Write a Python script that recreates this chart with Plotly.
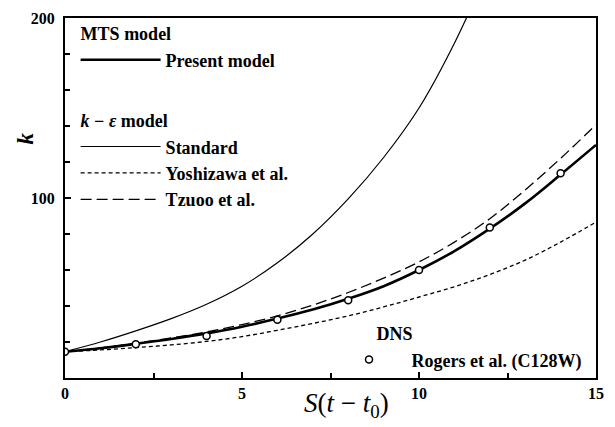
import plotly.graph_objects as go

# ---- data ----
x_curve = [0, 1, 2, 3, 4, 5, 6, 7, 8, 9, 10, 11, 12, 13, 14, 15]
present = [14.6, 16.5, 19.0, 21.7, 24.8, 28.5, 33.0, 38.0, 44.0, 51.0, 60.0, 70.5, 83.0, 97.0, 113.0, 129.5]
tzuoo = [14.6, 16.7, 19.3, 22.3, 25.6, 29.7, 34.5, 40.5, 47.5, 55.5, 64.5, 75.5, 88.5, 104.5, 122.0, 140.7]
yoshizawa = [14.6, 15.6, 16.9, 18.4, 20.3, 23.0, 26.5, 30.3, 34.5, 39.5, 45.0, 50.7, 57.5, 65.5, 75.5, 86.6]
x_std = [0, 1, 2, 3, 4, 5, 6, 7, 8, 9, 10, 11, 12]
standard = [14.6, 20.0, 26.2, 33.0, 41.0, 51.0, 64.0, 80.0, 99.5, 122.5, 150.0, 186.0, 229.0]
x_dns = [0, 2, 4, 6, 8, 10, 12, 14]
k_dns = [14.6, 18.8, 23.3, 32.4, 43.2, 60.0, 83.6, 113.7]

x_ticks = [0, 5, 10, 15]
y_ticks = [100, 200]

SERIF = "Liberation Serif"
FONT = dict(family=SERIF, size=18, color="black")

fig = go.Figure()
fig.add_trace(go.Scatter(x=x_curve, y=present, mode="lines", name="<b>Present model</b>",
                         line=dict(color="black", width=2.6, shape="spline"),
                         legendgroup="mts", legendgrouptitle=dict(text="<b>MTS model</b>", font=FONT)))
fig.add_trace(go.Scatter(x=x_std, y=standard, mode="lines", name="<b>Standard</b>",
                         line=dict(color="black", width=1.2, shape="spline"),
                         legendgroup="ke", legendgrouptitle=dict(text="<b><i>k</i> − <i>ε</i> model</b>", font=FONT)))
fig.add_trace(go.Scatter(x=x_curve, y=yoshizawa, mode="lines", name="<b>Yoshizawa et al.</b>",
                         line=dict(color="black", width=1.3, dash="4px,3px", shape="spline"),
                         legendgroup="ke"))
fig.add_trace(go.Scatter(x=x_curve, y=tzuoo, mode="lines", name="<b>Tzuoo et al.</b>",
                         line=dict(color="black", width=1.3, dash="11px,5px", shape="spline"),
                         legendgroup="ke"))
fig.add_trace(go.Scatter(x=x_dns, y=k_dns, mode="markers", name="<b>Rogers et al. (C128W)</b>",
                         marker=dict(symbol="circle", size=7, color="white",
                                     line=dict(color="black", width=1.5)),
                         legend="legend2", legendgroup="dns",
                         legendgrouptitle=dict(text="&nbsp;&nbsp;&nbsp;&nbsp;&nbsp;&nbsp;&nbsp;&nbsp;&nbsp;&nbsp;<b>DNS</b>", font=FONT)))

axis_common = dict(showline=True, linecolor="black", linewidth=2, mirror=True,
                   showgrid=False, zeroline=False, ticks="inside", tickcolor="black",
                   tickwidth=1.5, tickfont=dict(family=SERIF, size=16, color="black"))

fig.update_xaxes(range=[0, 15], tickvals=x_ticks, ticktext=[f"<b>{v}</b>" for v in x_ticks],
                 ticklen=6, minor=dict(dtick=2.5, ticks="inside", ticklen=5, tickcolor="black", tickwidth=1.5),
                 **axis_common)
fig.update_yaxes(range=[0, 200], tickvals=y_ticks, ticktext=[f"<b>{v}</b>" for v in y_ticks],
                 ticklen=6, ticklabelstandoff=5,
                 minor=dict(dtick=20, ticks="inside", ticklen=5, tickcolor="black", tickwidth=1.5),
                 **axis_common)

fig.add_annotation(text="<i>S</i>(<i>t</i> − <i>t</i><sub>0</sub>)", xref="paper", yref="paper",
                   x=0.531, y=-0.076, showarrow=False, font=dict(family=SERIF, size=27, color="black"),
                   xanchor="center", yanchor="middle")
fig.add_annotation(text="<b><i>k</i></b>", xref="paper", yref="paper", x=-0.075, y=0.666,
                   showarrow=False, textangle=-90, font=dict(family=SERIF, size=23, color="black"),
                   xanchor="center", yanchor="middle")

fig.update_layout(
    width=615, height=427,
    margin=dict(l=65, r=19, t=10, b=49),
    paper_bgcolor="white", plot_bgcolor="white",
    font=FONT,
    legend=dict(x=0.02, y=1.008, xanchor="left", yanchor="top", bgcolor="rgba(0,0,0,0)",
                traceorder="grouped", tracegroupgap=34, itemwidth=80, font=FONT),
    legend2=dict(x=0.4925, y=0.0, xanchor="left", yanchor="bottom", bgcolor="rgba(0,0,0,0)",
                 itemwidth=75, font=FONT),
)

fig.write_html("out.html")
